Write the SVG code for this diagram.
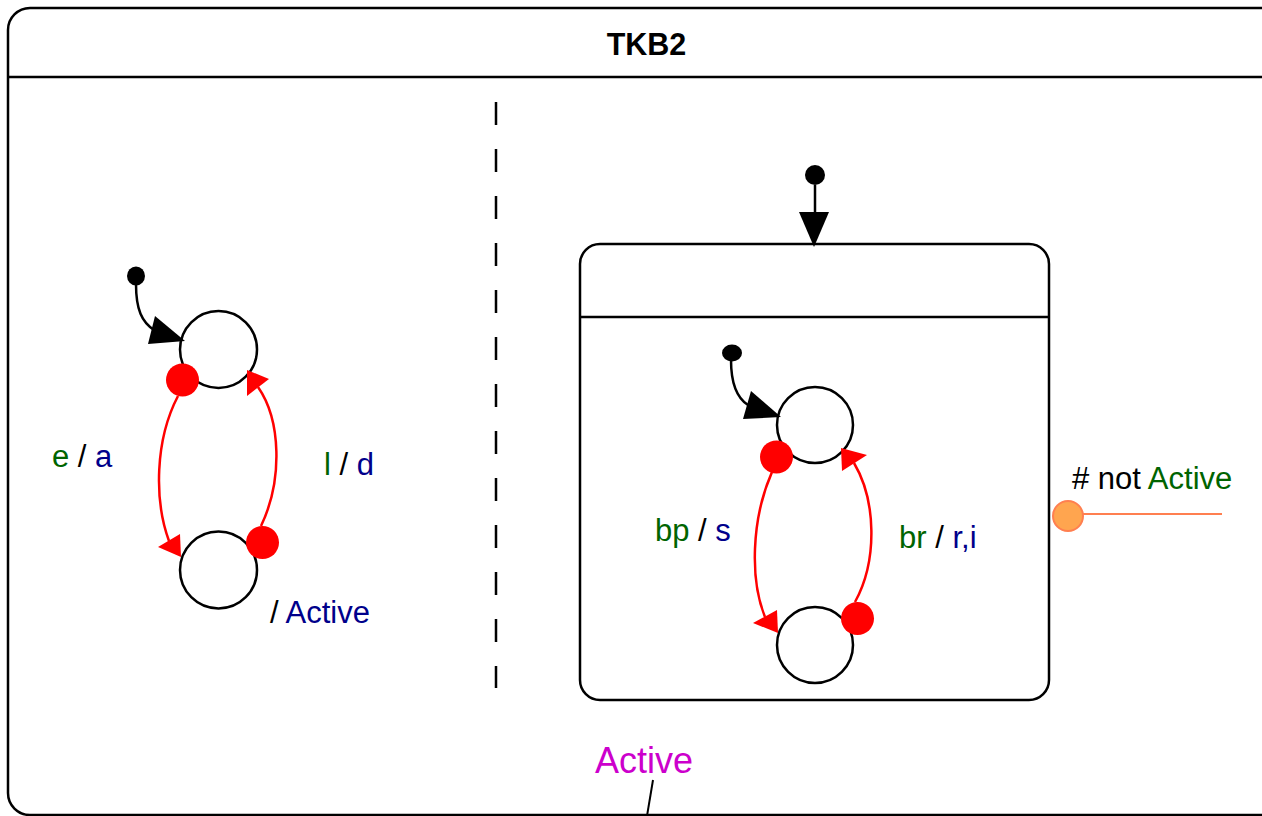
<svg xmlns="http://www.w3.org/2000/svg" width="1262" height="816" viewBox="0 0 1262 816">
<style>
.box{fill:none;stroke:#000;stroke-width:2.5}
.st{fill:#fff;stroke:#000;stroke-width:2.5}
.blk{fill:none;stroke:#000;stroke-width:2.5}
.red{fill:none;stroke:#f00;stroke-width:2.5}
.t{font-family:"Liberation Sans",Arial,sans-serif;font-size:31px}
.g{fill:#006400}
.b{fill:#00008B}
.k{fill:#000}
</style>
<rect width="1262" height="816" fill="#fff"/>
<g id="outer">
<rect class="box" x="8" y="8" width="1274" height="807" rx="22"/>
<line class="box" x1="8" y1="77" x2="1262" y2="77"/>
<text x="646.5" y="55" text-anchor="middle" style="font-family:'Liberation Sans',Arial,sans-serif;font-size:30.5px;font-weight:bold">TKB2</text>
<line x1="496" y1="102" x2="496" y2="688" stroke="#000" stroke-width="2.5" stroke-dasharray="23,24"/>
</g>
<g id="left-region">
<g id="init1"><ellipse cx="136" cy="276" rx="9" ry="9.5" fill="#000"/></g>
<g id="s1"><circle class="st" cx="218.5" cy="349.5" r="38.5"/></g>
<g id="s2"><circle class="st" cx="218.5" cy="570" r="38.5"/></g>
</g>
<g id="composite">
<rect class="box" x="580" y="244" width="469" height="456" rx="20"/>
<line class="box" x1="580" y1="317" x2="1049" y2="317"/>
<g id="init2"><circle cx="815" cy="175" r="10" fill="#000"/></g>
<g id="init3"><ellipse cx="732" cy="353" rx="10" ry="8.5" fill="#000"/></g>
<g id="sA"><circle class="st" cx="815" cy="425" r="38"/></g>
<g id="sB"><circle class="st" cx="815" cy="645" r="38"/></g>
</g>
<g id="connectors">
<path class="blk" d="M136,284 C136,310 142,322 154,330"/>
<polygon points="185,341 155,316 148,344" fill="#000"/>
<path class="blk" d="M731,360 C731,385 737,398 748,405"/>
<polygon points="781,417 751,391 743,419" fill="#000"/>
<line class="blk" x1="815" y1="185" x2="815" y2="214"/>
<polygon points="799,212 829,212 814,247" fill="#000"/>
<path class="red" d="M178,396 C155,440 154,500 169,541"/>
<polygon points="181,557 158,547 180,534" fill="#f00"/>
<circle cx="182.5" cy="380" r="16.5" fill="#f00"/>
<path class="red" d="M261,526 C283,480 281,420 258,387"/>
<polygon points="247,370 269,379 247,396" fill="#f00"/>
<circle cx="262.5" cy="542.5" r="16.5" fill="#f00"/>
<path class="red" d="M772,472 C751,520 750,580 765,617"/>
<polygon points="778,633 753,623 777,610" fill="#f00"/>
<circle cx="776.5" cy="457" r="16.5" fill="#f00"/>
<path class="red" d="M855,602 C878,560 876,500 854,463"/>
<polygon points="841,448 867,455 842,471" fill="#f00"/>
<circle cx="857.5" cy="618.5" r="16.5" fill="#f00"/>
<line x1="1083" y1="514" x2="1222" y2="514" stroke="#FF7F50" stroke-width="2"/>
<circle cx="1068" cy="516" r="15" fill="#FFA54F" stroke="#FF7F50" stroke-width="2"/>
<line x1="653" y1="780" x2="647" y2="816" stroke="#000" stroke-width="2"/>
</g>
<g id="labels">
<text class="t" x="52" y="467"><tspan class="g">e</tspan><tspan class="k"> / </tspan><tspan class="b">a</tspan></text>
<text class="t" x="324" y="475"><tspan class="g">l</tspan><tspan class="k"> / </tspan><tspan class="b">d</tspan></text>
<text class="t" x="270" y="623"><tspan class="k">/ </tspan><tspan class="b">Active</tspan></text>
<text class="t" x="655" y="541"><tspan class="g">bp</tspan><tspan class="k"> / </tspan><tspan class="b">s</tspan></text>
<text class="t" x="899" y="548"><tspan class="g">br</tspan><tspan class="k"> / </tspan><tspan class="b">r,i</tspan></text>
<text class="t" x="1072" y="489"><tspan class="k"># not </tspan><tspan class="g">Active</tspan></text>
<text x="595" y="773" style="font-family:'Liberation Sans',Arial,sans-serif;font-size:36px;fill:#CC00CC">Active</text>
</g>
</svg>
